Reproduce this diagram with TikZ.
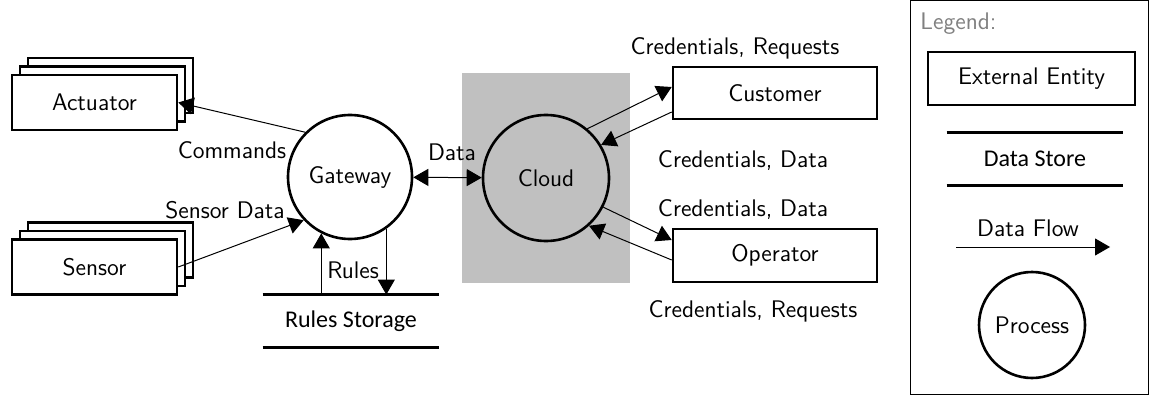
\documentclass[tikz,border=0pt]{standalone}
\usepackage{fontspec}
\newfontfamily\storefont{Carlito}
\usetikzlibrary{arrows.meta,calc,positioning}
\definecolor{cloudgray}{HTML}{C0C0C0}
\definecolor{legendgray}{HTML}{808080}
\tikzset{
  entity/.style={draw, line width=1.3pt, fill=white, minimum width=82.5pt, minimum height=27.5pt},
  process/.style={circle, draw, line width=1.3pt, minimum size=#1},
  process/.default=62pt,
  storage/.style={minimum width=88pt, minimum height=26pt, font=\storefont\fontsize{12}{14.4}\selectfont},
  storeline/.style={line width=1.2pt},
  flow/.style={-{Triangle[length=7.5pt,width=8.5pt]}, line width=0.5pt},
  twoflow/.style={{Triangle[length=7.5pt,width=8.5pt]}-{Triangle[length=7.5pt,width=8.5pt]}, line width=0.5pt}
}
\begin{document}
\begin{tikzpicture}[x=0.5pt,y=-0.5pt, font=\sffamily\fontsize{12}{14.4}\selectfont]
  \useasboundingbox (0,0) rectangle (1149,395);
  % cloud area
  \fill[cloudgray] (462,73) rectangle (630,283);
  % external entities (stacked)
  \foreach \i in {2,1}{
    \node[entity] (act\i) at ($(94.5,102.5)+(8*\i,-8.5*\i)$) {};
    \node[entity] (sen\i) at ($(94.5,267)+(8*\i,-8.5*\i)$) {};
  }
  \node[entity] (act) at (94.5,102.5) {Actuator};
  \node[entity] (sen) at (94.5,267) {Sensor};
  \node[entity, minimum width=102pt, minimum height=26pt] (cust) at (775,93) {Customer};
  \node[entity, minimum width=102pt, minimum height=26.5pt] (op) at (775,255.5) {Operator};
  % processes
  \node[process, fill=white] (gw) at (350,177) {Gateway};
  \node[process=63pt] (cl) at (546,178) {Cloud};
  % data store
  \node[storage] (rs) at (351,321) {Rules Storage};
  \draw[storeline] (rs.north west) -- (rs.north east);
  \draw[storeline] (rs.south west) -- (rs.south east);
  % flows
  \draw[flow] (gw.135) -- (act.east);
  \draw[flow] (sen.east) -- (gw.223);
  \draw[twoflow] (gw) -- (cl);
  \draw[flow] (rs.north -| gw.243) -- (gw.243);
  \draw[flow] (gw.-55) -- (gw.-55 |- rs.north);
  \draw[flow] (cl.50) -- ($(cust.west)+(0,-6)$);
  \draw[flow] ($(cust.west)+(0,19)$) -- (cl.31);
  \draw[flow] (cl.-27) -- ($(op.west)+(0,-15.5)$);
  \draw[flow] ($(op.west)+(0,4.5)$) -- (cl.-48);
  % labels
  \node (cmd) at (232,150) {Commands};
  \node (sdat) at (225,210) {Sensor Data};
  \node (dat) at (452,152) {Data};
  \node (rul) at (353,270) {Rules};
  \node (creq1) at (735,48) {Credentials, Requests};
  \node (cdat1) at (743,161) {Credentials, Data};
  \node (cdat2) at (743,210) {Credentials, Data};
  \node (creq2) at (753,311) {Credentials, Requests};
  % legend
  \draw[line width=0.5pt] (910.5,0.5) rectangle (1148.5,394.5);
  \node[anchor=west, inner sep=0pt, text=legendgray] (leg) at (920,24) {Legend:};
  \node[entity, minimum width=103.5pt, minimum height=26.5pt] (lent) at (1031.5,78.5) {External Entity};
  \node[storage] (ds) at (1035,159) {Data Store};
  \draw[storeline] (ds.north west) -- (ds.north east);
  \draw[storeline] (ds.south west) -- (ds.south east);
  \node (lflow) at (1028,228) {Data Flow};
  \coordinate (fl1) at (956,247);
  \coordinate (fl2) at (1110,247);
  \draw[flow] (fl1) -- (fl2);
  \node[process=53pt] (lproc) at (1032,325) {Process};
\end{tikzpicture}
\end{document}
